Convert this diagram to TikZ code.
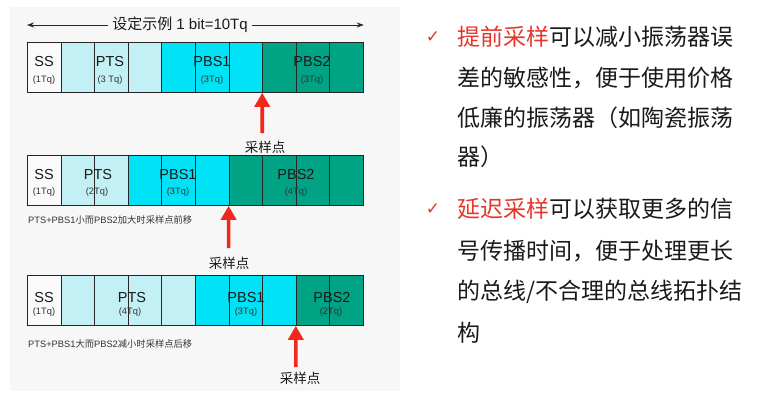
\documentclass[tikz,border=0pt]{standalone}
\usepackage{fontspec}
\setmainfont{Liberation Sans}
\newfontfamily\cjk{Noto Sans CJK SC}
\newfontfamily\symf{DejaVu Sans}
\usetikzlibrary{arrows.meta}
\definecolor{panel}{HTML}{F7F7F7}
\definecolor{ssc}{HTML}{FAFAFA}
\definecolor{ptsc}{HTML}{C2F0F4}
\definecolor{pbsa}{HTML}{00E2F6}
\definecolor{pbsb}{HTML}{00A383}
\definecolor{hl}{HTML}{E8352B}
\definecolor{arr}{HTML}{F2281C}
\definecolor{txt}{HTML}{1A1A1A}
\begin{document}
\begin{tikzpicture}[x=1pt,y=-1pt,
  cell/.style={draw=black!85, line width=0.8pt, minimum width=33.6pt, minimum height=50pt, inner sep=0pt, anchor=north west},
  nm/.style={font=\fontsize{14.5}{16}\selectfont, inner sep=0pt, text=txt},
  sub/.style={font=\fontsize{9.3}{11}\selectfont, inner sep=0pt, text=black!80},
  lbl/.style={font=\cjk\fontsize{13.5}{15}\selectfont, inner sep=0pt, text=txt},
  capt/.style={font=\fontsize{9.3}{11}\selectfont, inner sep=0pt, anchor=west, text=black!80},
  redarrow/.style={draw=arr, line width=3.6pt, -{Triangle[width=15pt,length=14pt]}},
  dimarrow/.style={draw=black!85, line width=0.8pt, -{Stealth[length=7pt,width=5pt]}},
  body/.style={font=\cjk\fontsize{23}{26}\selectfont, inner sep=0pt, anchor=west, text=txt},
  chk/.style={font=\symf\fontsize{17}{19}\selectfont, inner sep=0pt, text=hl}
]
\useasboundingbox (0,0) rectangle (767,408);
\fill[white] (0,0) rectangle (767,408);
\fill[panel] (10,7) rectangle (400,391);

% title with double arrow
\node[font=\fontsize{15}{17}\selectfont, inner sep=4pt, text=txt] (title) at (180,25) {{\cjk 设定示例} 1 bit=10Tq};

% row 1
\foreach \c [count=\i from 0] in {ssc,ptsc,ptsc,ptsc,pbsa,pbsa,pbsa,pbsb,pbsb,pbsb}
  \node[cell, fill=\c] (a\i) at ({27+33.6*\i},42) {};
\draw[dimarrow] (title.west) -- (title.west -| a0.west);
\draw[dimarrow] (title.east) -- (title.east -| a9.east);
\node[nm] (a-ss) at (44,62) {SS};   \node[sub] (a-ss2) at (44,80) {(1Tq)};
\node[nm] (a-pts) at (110,62) {PTS}; \node[sub] (a-pts2) at (110,80) {(3 Tq)};
\node[nm] (a-p1) at (212,62) {PBS1}; \node[sub] (a-p12) at (212,80) {(3Tq)};
\node[nm] (a-p2) at (312,62) {PBS2}; \node[sub] (a-p22) at (312,80) {(3Tq)};
\coordinate (ab) at (262.2,133);
\draw[redarrow] (ab) -- (a7.south west);
\node[lbl] (al) at (265,147) {采样点};

% row 2
\foreach \c [count=\i from 0] in {ssc,ptsc,ptsc,pbsa,pbsa,pbsa,pbsb,pbsb,pbsb,pbsb}
  \node[cell, fill=\c] (b\i) at ({27+33.6*\i},155) {};
\node[nm] (b-ss) at (44,175) {SS};   \node[sub] (b-ss2) at (44,192) {(1Tq)};
\node[nm] (b-pts) at (98,175) {PTS}; \node[sub] (b-pts2) at (97,192) {(2Tq)};
\node[nm] (b-p1) at (178,175) {PBS1}; \node[sub] (b-p12) at (178,192) {(3Tq)};
\node[nm] (b-p2) at (296,175) {PBS2}; \node[sub] (b-p22) at (296,192) {(4Tq)};
\node[capt] (bcap) at (28,220) {PTS+PBS1{\cjk 小而}PBS2{\cjk 加大时采样点前移}};
\coordinate (bb) at (228.6,248);
\draw[redarrow] (bb) -- (b6.south west);
\node[lbl] (bl) at (229,263) {采样点};

% row 3
\foreach \c [count=\i from 0] in {ssc,ptsc,ptsc,ptsc,ptsc,pbsa,pbsa,pbsa,pbsb,pbsb}
  \node[cell, fill=\c] (c\i) at ({27+33.6*\i},275) {};
\node[nm] (c-ss) at (44,297) {SS};   \node[sub] (c-ss2) at (44,312) {(1Tq)};
\node[nm] (c-pts) at (132,297) {PTS}; \node[sub] (c-pts2) at (130,312) {(4Tq)};
\node[nm] (c-p1) at (246,297) {PBS1}; \node[sub] (c-p12) at (246,312) {(3Tq)};
\node[nm] (c-p2) at (332,297) {PBS2}; \node[sub] (c-p22) at (331,312) {(2Tq)};
\node[capt] (ccap) at (28,344) {PTS+PBS1{\cjk 大而}PBS2{\cjk 减小时采样点后移}};
\coordinate (cb) at (295.8,367);
\draw[redarrow] (cb) -- (c8.south west);
\node[lbl] (cl) at (300,378) {采样点};

% right text
\node[chk] (k1) at (433,37) {✓};
\node[body] (t11) at (457,37) {\textcolor{hl}{提前采样}可以减小振荡器误};
\node[body] (t12) at (457,78) {差的敏感性，便于使用价格};
\node[body] (t13) at (457,118) {低廉的振荡器（如陶瓷振荡};
\node[body] (t14) at (457,157) {器）};
\node[chk] (k2) at (433,209) {✓};
\node[body] (t21) at (457,209) {\textcolor{hl}{延迟采样}可以获取更多的信};
\node[body] (t22) at (457,251) {号传播时间，便于处理更长};
\node[body] (t23) at (457,292) {的总线/不合理的总线拓扑结};
\node[body] (t24) at (457,333) {构};
\end{tikzpicture}
\end{document}
